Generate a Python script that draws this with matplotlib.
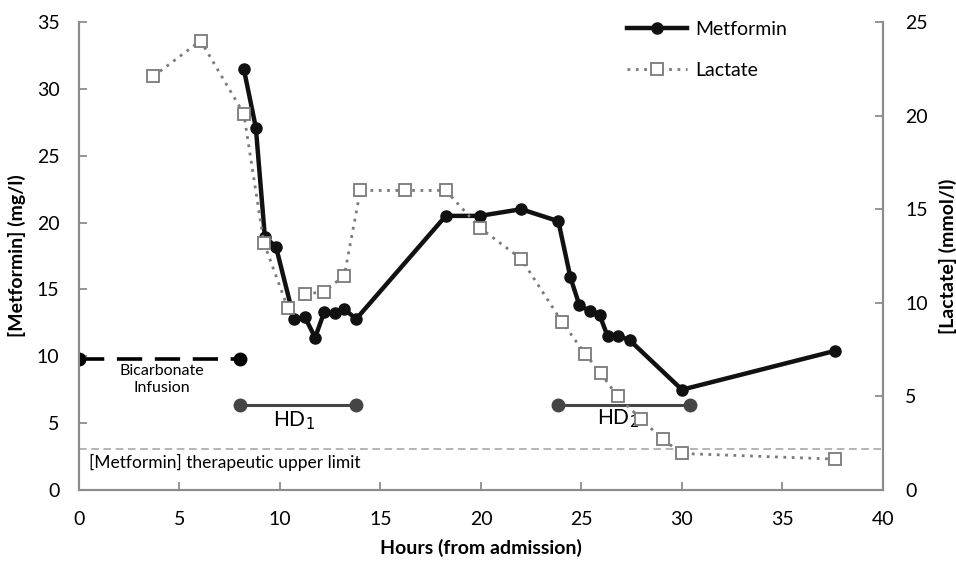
import matplotlib
matplotlib.use("Agg")
import matplotlib.pyplot as plt
from matplotlib.lines import Line2D

plt.rcParams['font.family'] = ['Lato', 'DejaVu Sans']

# metformin (mg/l), left axis
met_h = [8.2, 8.8, 9.25, 9.8, 10.7, 11.25, 11.75, 12.2, 12.75, 13.2, 13.8,
         18.25, 19.95, 22.0, 23.85, 24.45, 24.9, 25.4, 25.9, 26.3, 26.8, 27.4,
         30.0, 37.6]
met_v = [31.5, 27.1, 18.9, 18.2, 12.8, 12.9, 11.4, 13.3, 13.2, 13.5, 12.8,
         20.5, 20.5, 21.0, 20.1, 15.9, 13.8, 13.4, 13.1, 11.5, 11.55, 11.2,
         7.5, 10.4]

# lactate (mmol/l), right axis
lac_h = [3.7, 6.05, 8.2, 9.2, 10.4, 11.25, 12.2, 13.2, 14.0, 16.2, 18.25,
         19.95, 22.0, 24.05, 25.2, 25.95, 26.8, 27.95, 29.05, 30.0, 37.6]
lac_v = [22.1, 24.0, 20.1, 13.2, 9.7, 10.45, 10.6, 11.45, 16.0, 16.0, 16.0,
         14.0, 12.35, 8.95, 7.25, 6.25, 5.0, 3.8, 2.7, 1.95, 1.65]

bicarb_h = [0, 8.0]
bicarb_v = [9.8, 9.8]
hd1_h = [8.0, 13.8]
hd2_h = [23.85, 30.4]
hd_level = 6.35
limit = 3.1

fig = plt.figure(figsize=(9.56, 5.61), dpi=100)
ax = fig.add_axes([0.0826, 0.1266, 0.841, 0.8342])
ax2 = ax.twinx()

spine_c = '#8c8c8c'

ax.axhline(limit, color='#a0a0a0', lw=1.1, ls=(0, (5, 3)), zorder=1)
ax.plot(bicarb_h, bicarb_v, color='black', lw=2.6, ls=(0, (7, 3.5)),
        marker='o', ms=9, zorder=3)
ax.plot(hd1_h, [hd_level] * 2, color='#454545', lw=2.2, marker='o', ms=9, zorder=3)
ax.plot(hd2_h, [hd_level] * 2, color='#454545', lw=2.2, marker='o', ms=9, zorder=3)
ax.plot(met_h, met_v, color='#111111', lw=3.2, marker='o', ms=8, zorder=4)

ax2.plot(lac_h, lac_v, color='#7a7a7a', lw=2, ls=(0, (1, 2)), marker='s', ms=9,
         mfc='white', mec='#7a7a7a', mew=1.3, zorder=3)

ax.text(4.1, 8.25, 'Bicarbonate\nInfusion', ha='center', va='center',
        fontsize=11.5, linespacing=1.25)
ax.text(10.7, 5.2, 'HD$_1$', ha='center', va='center', fontsize=15)
ax.text(26.8, 5.3, 'HD$_2$', ha='center', va='center', fontsize=15)
ax.text(0.5, 2.05, '[Metformin] therapeutic upper limit', ha='left',
        va='center', fontsize=12.5)

ax.set_xlim(0, 40)
ax.set_ylim(0, 35)
ax2.set_ylim(0, 25)
ax.set_xticks(range(0, 41, 5))
ax.set_yticks(range(0, 36, 5))
ax2.set_yticks(range(0, 26, 5))

for a in (ax, ax2):
    a.spines['top'].set_visible(False)
    for s in ('left', 'right', 'bottom'):
        a.spines[s].set_color(spine_c)
        a.spines[s].set_linewidth(1.5)
ax.tick_params(axis='both', direction='in', length=6, width=1.3,
               color=spine_c, labelsize=14)
ax.tick_params(axis='y', pad=14)
ax.tick_params(axis='x', pad=15)
ax2.tick_params(axis='y', direction='in', length=6, width=1.3,
                color=spine_c, labelsize=14, pad=16)

ax.set_xlabel('Hours (from admission)', fontsize=14, fontweight='bold', labelpad=8)
ax.set_ylabel('[Metformin] (mg/l)', fontsize=14, fontweight='bold', labelpad=8)
ax2.set_ylabel('[Lactate] (mmol/l)', fontsize=14, fontweight='bold', labelpad=8)

handles = [
    Line2D([], [], color='#111111', lw=3.2, marker='o', ms=8),
    Line2D([], [], color='#7a7a7a', lw=2, ls=(0, (1, 2)), marker='s', ms=9,
           mfc='white', mec='#7a7a7a', mew=1.3),
]
ax2.legend(handles, ['Metformin', 'Lactate'], loc='upper left',
           bbox_to_anchor=(0.66, 1.04), frameon=False, fontsize=14,
           handlelength=3.1, labelspacing=1.25, handletextpad=0.4)

fig.savefig('out.png', dpi=100)
